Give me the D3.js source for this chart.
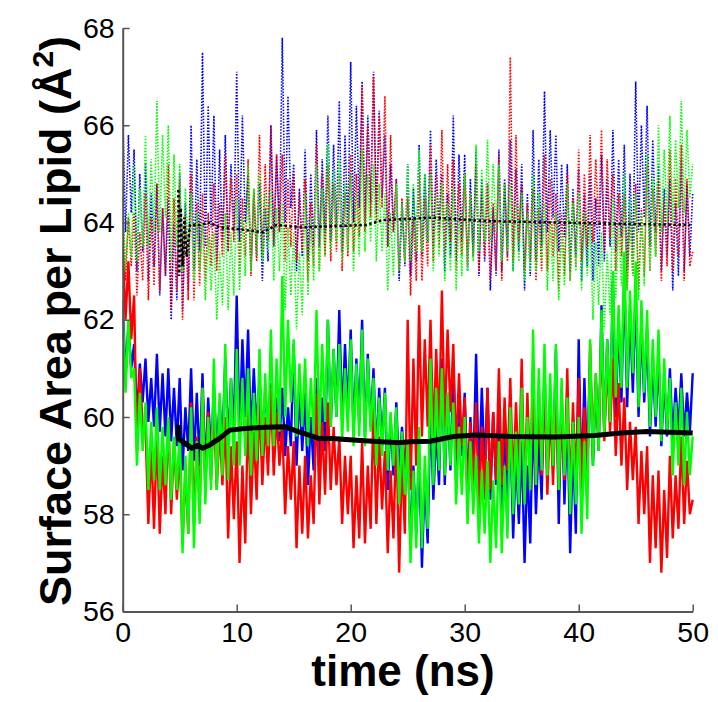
<!DOCTYPE html>
<html>
<head>
<meta charset="utf-8">
<script src="https://cdn.jsdelivr.net/npm/d3@7"></script>
<style>
  html, body { margin: 0; padding: 0; background: #fff; }
  svg { display: block; font-family: "Liberation Sans", Arial, sans-serif; }
</style>
</head>
<body>
<svg id="chart" width="718" height="702"></svg>
<script>
// sampling step of the series below (ns), first sample at t = 0
const dt = 0.25;

// lower (solid) surface-area traces, Å^2
const blueSolid = [
  62.4,60.8,61.9,61.0, 61.5,60.0,61.1,60.3, 61.2,59.9,60.8,59.8, 61.3,59.7,60.9,59.6, 61.0,59.5,60.6,59.4,
  60.8,58.9,60.2,59.3, 61.0,59.1,60.5,59.0, 60.9,58.8,60.4,59.2, 60.6,59.3,60.3,59.5, 61.2,59.4,60.8,59.7,
  62.5,59.6,61.6,60.0, 61.8,59.5,61.0,59.7, 60.8,59.6,60.5,59.7, 60.7,59.4,60.4,59.5, 60.6,59.2,60.2,59.4,
  61.5,59.0,60.6,59.3, 60.5,58.6,60.0,58.9, 60.8,59.0,60.4,59.3, 62.0,59.8,61.4,60.0, 62.2,59.9,61.5,60.1,
  61.8,59.7,61.2,59.9, 62.0,59.6,61.3,59.8, 61.0,59.2,60.6,59.4, 60.6,58.5,60.0,58.8, 60.3,58.8,59.8,58.9,
  59.5,57.3,59.0,57.6, 59.3,56.9,58.8,57.4, 60.3,58.3,59.8,58.6, 61.2,58.6,60.5,58.9, 61.0,59.0,60.4,59.2,
  60.5,58.5,60.0,58.8, 61.3,58.6,60.6,58.9, 60.6,58.3,60.1,58.6, 60.3,58.0,59.8,58.3, 59.8,57.5,59.3,57.8,
  59.5,57.0,59.0,57.4, 60.2,58.0,59.6,58.3, 61.0,58.8,60.4,59.0, 61.4,57.8,60.6,58.2, 60.2,57.2,59.5,57.6,
  61.6,58.5,60.8,58.8, 61.2,59.0,60.7,59.3, 62.3,59.6,61.6,59.9, 62.8,60.0,62.0,60.3, 63.0,60.2,62.2,60.5,
  62.6,60.0,61.9,60.3, 61.8,59.6,61.2,59.8, 61.3,59.4,60.8,59.6, 61.0,59.5,60.6,59.7, 60.9,59.6,60.5,59.7,
  60.9
];
const redSolid = [
  63.5,62.0,63.2,61.6, 62.5,59.3,61.0,59.8, 59.8,57.8,59.4,57.7, 59.7,57.6,59.2,58.0, 60.0,58.0,59.5,58.3,
  59.3,57.4,58.9,57.6, 60.3,57.8,59.6,58.1, 60.6,58.5,60.1,58.7, 60.2,58.5,59.8,58.6, 60.0,57.5,59.4,57.9,
  59.5,57.0,59.0,57.4, 60.2,58.0,59.7,58.3, 60.4,58.6,60.0,58.8, 60.6,58.8,60.1,59.0, 59.8,58.0,59.4,58.3,
  59.5,57.3,59.0,57.6, 59.2,57.5,58.8,57.8, 60.5,58.2,59.9,58.4, 60.3,58.5,59.8,58.6, 59.6,57.8,59.2,58.0,
  59.2,57.3,58.8,57.5, 59.5,57.4,59.0,57.7, 60.2,57.8,59.6,58.1, 59.3,57.2,58.9,57.5, 59.8,56.8,59.2,57.6,
  62.0,58.5,61.2,59.0, 62.3,59.6,61.6,59.8, 62.0,59.5,61.4,59.7, 62.6,59.8,61.8,60.1, 61.5,59.2,60.9,59.4,
  60.4,58.3,59.9,58.6, 60.3,58.0,59.8,58.3, 60.6,58.5,60.1,58.7, 61.0,58.6,60.4,58.9, 60.8,58.5,60.3,58.7,
  61.2,58.3,60.5,58.6, 61.0,58.6,60.4,58.8, 60.7,58.4,60.2,58.6, 60.6,58.5,60.1,58.7, 61.0,58.3,60.3,58.6,
  60.8,58.6,60.2,58.8, 61.5,59.2,60.9,59.4, 61.8,59.5,61.2,59.7, 61.2,59.2,60.7,59.0, 60.4,58.5,59.9,58.7,
  59.8,57.8,59.3,58.0, 59.4,57.0,58.8,57.3, 58.9,56.8,58.5,57.1, 59.2,57.5,58.8,57.7, 59.6,57.8,59.1,58.0,
  58.3
];
const greenSolid = [
  62.3,60.5,62.0,60.8, 61.0,59.0,60.5,59.3, 60.3,58.5,59.9,58.7, 60.2,58.5,59.8,58.6, 60.0,58.3,59.6,58.5,
  59.8,57.2,59.2,57.6, 60.2,57.3,59.5,57.8, 60.6,58.2,60.0,58.5, 61.2,58.5,60.5,58.8, 61.5,58.7,60.8,59.0,
  61.4,59.0,60.8,59.2, 61.0,58.8,60.5,59.1, 61.4,59.2,60.9,59.4, 61.8,59.4,61.2,59.7, 62.9,60.0,62.0,60.3,
  61.6,59.6,61.1,59.8, 61.2,59.4,60.8,59.6, 62.2,59.6,61.5,59.9, 62.0,59.8,61.4,60.0, 61.5,59.5,61.0,59.7,
  61.6,59.4,61.1,59.6, 61.8,59.4,61.2,59.7, 60.8,59.0,60.4,59.2, 60.5,58.9,60.1,59.0, 60.2,58.2,59.7,58.4,
  59.5,57.0,58.9,57.3, 59.8,57.3,59.2,57.7, 61.2,58.6,60.6,58.9, 61.0,58.8,60.5,59.0, 60.3,58.2,59.8,58.4,
  60.0,57.8,59.5,58.0, 59.2,57.4,58.9,57.6, 59.1,57.0,58.7,57.3, 59.5,57.2,59.0,57.5, 60.2,58.0,59.7,58.2,
  60.6,58.2,60.0,58.5, 61.8,58.6,61.0,58.9, 61.5,58.8,60.9,59.0, 61.5,58.5,60.8,58.8, 60.4,58.0,59.9,58.2,
  60.0,57.6,59.5,57.9, 61.6,59.0,60.9,59.3, 62.2,59.6,61.6,59.9, 63.0,60.4,62.3,60.6, 63.4,60.6,62.6,60.9,
  63.2,60.2,62.4,60.5, 62.2,59.8,61.6,60.0, 61.8,59.5,61.2,59.7, 60.8,58.8,60.3,59.0, 60.6,58.6,60.1,58.8,
  59.6
];

// upper (dotted) traces, Å^2
const blueDotted = [
  66.3,63.8,65.8,64.2, 65.5,63.0,65.0,63.4, 65.2,62.8,64.6,63.1, 64.8,62.5,64.3,62.9, 64.5,62.0,64.0,62.4,
  65.0,62.2,64.4,62.6, 66.0,63.0,65.3,63.4, 67.5,63.5,66.4,63.9, 66.2,63.2,65.5,63.6, 65.8,63.4,65.2,63.8,
  67.1,63.6,66.2,64.0, 65.0,63.0,64.6,63.3, 64.8,62.8,64.3,63.2, 66.0,63.5,65.4,63.8, 67.8,64.0,66.6,64.3,
  65.2,63.0,64.7,63.3, 65.5,63.2,65.0,63.5, 65.9,63.5,65.3,63.8, 66.2,63.6,65.6,63.9, 66.5,63.4,65.8,63.8,
  67.3,64.0,66.4,64.3, 66.9,64.0,66.2,64.4, 67.1,64.2,66.3,64.5, 65.8,63.5,65.2,63.8, 64.9,62.8,64.4,63.1,
  65.2,62.9,64.7,63.2, 65.6,63.3,65.0,63.6, 65.9,63.5,65.3,63.8, 65.0,63.0,64.6,63.3, 66.2,63.2,65.4,63.6,
  65.4,63.0,64.9,63.3, 65.5,62.9,64.9,63.2, 64.8,62.6,64.3,62.9, 65.5,63.0,64.9,63.3, 65.7,63.0,65.1,63.4,
  65.2,62.6,64.6,62.9, 65.9,63.2,65.3,63.5, 66.7,63.8,65.9,64.1, 65.8,63.4,65.2,63.7, 65.2,63.0,64.7,63.3,
  65.1,62.8,64.6,63.1, 65.0,62.8,64.5,63.1, 65.4,63.2,64.9,63.5, 65.9,63.4,65.3,63.7, 65.6,63.0,65.0,63.3,
  66.9,63.8,66.0,64.1, 66.4,63.5,65.7,63.8, 65.2,63.0,64.7,63.3, 64.9,62.6,64.4,62.9, 65.3,63.0,64.8,63.3,
  64.6
];
const redDotted = [
  64.5,62.8,64.1,63.1, 64.2,62.5,63.8,62.8, 64.6,62.4,64.1,62.7, 64.8,62.6,64.3,62.9, 65.2,62.2,64.5,62.6,
  64.9,62.0,64.2,62.4, 65.0,62.4,64.4,62.7, 64.6,62.8,64.2,63.1, 64.8,63.0,64.4,63.3, 65.4,63.4,64.9,63.6,
  65.0,63.0,64.5,63.3, 65.3,62.9,64.7,63.2, 65.8,63.3,65.2,63.6, 66.0,63.5,65.4,63.8, 65.4,63.2,64.9,63.5,
  65.0,63.2,64.6,63.4, 64.9,62.8,64.4,63.1, 65.6,63.0,65.0,63.3, 65.2,63.2,64.8,63.4, 65.0,63.0,64.6,63.3,
  65.4,63.4,65.0,63.7, 66.8,63.8,66.0,64.1, 67.0,64.0,66.2,64.3, 66.6,63.5,65.8,63.8, 64.9,63.0,64.5,63.2,
  64.5,62.5,64.1,62.8, 65.0,62.8,64.5,63.1, 65.6,63.2,65.0,63.5, 65.9,63.3,65.2,63.6, 65.3,63.0,64.8,63.3,
  65.0,63.1,64.6,63.3, 65.2,63.0,64.7,63.3, 64.8,62.8,64.4,63.0, 65.4,62.8,64.8,63.2, 67.4,63.2,65.8,63.6,
  64.8,63.0,64.4,63.2, 64.7,62.8,64.3,63.0, 65.4,63.0,64.9,63.3, 64.6,62.6,64.2,62.9, 65.0,62.8,64.5,63.1,
  65.5,63.2,65.0,63.5, 65.8,63.6,65.3,63.9, 65.9,63.4,65.3,63.7, 65.0,63.0,64.6,63.3, 64.6,62.6,64.2,62.9,
  64.8,62.6,64.3,62.9, 65.2,63.0,64.7,63.3, 64.9,62.8,64.5,63.1, 65.5,63.0,64.9,63.3, 65.6,62.8,64.9,63.1,
  63.4
];
const greenDotted = [
  64.5,63.0,64.2,63.3, 65.2,63.2,64.7,63.5, 65.8,63.5,65.3,63.8, 66.5,63.8,65.8,64.1, 66.0,63.2,65.4,63.5,
  65.2,63.0,64.7,63.3, 64.6,62.8,64.2,63.0, 64.0,62.4,63.7,62.6, 63.8,62.0,63.4,62.3, 64.2,62.2,63.8,62.5,
  64.5,62.6,64.1,62.9, 65.2,63.0,64.7,63.3, 65.0,63.2,64.6,63.4, 64.7,62.8,64.3,63.0, 64.4,62.2,63.9,62.5,
  63.8,61.8,63.4,62.1, 64.6,62.5,64.1,62.8, 65.2,63.0,64.7,63.3, 65.6,63.4,65.1,63.6, 65.3,63.2,64.8,63.4,
  65.0,63.0,64.6,63.3, 65.5,63.4,65.0,63.6, 65.2,63.2,64.8,63.4, 64.6,62.6,64.2,62.9, 64.8,63.0,64.4,63.2,
  65.2,63.2,64.8,63.4, 65.5,63.4,65.0,63.6, 65.0,63.0,64.6,63.3, 64.8,62.8,64.4,63.0, 64.7,62.6,64.2,62.9,
  65.0,63.0,64.6,63.2, 65.6,63.4,65.1,63.6, 65.7,63.6,65.2,63.8, 65.2,63.2,64.8,63.4, 64.8,63.0,64.4,63.2,
  64.6,62.8,64.2,63.0, 65.0,63.0,64.6,63.2, 64.4,62.6,64.0,62.8, 64.2,62.4,63.8,62.7, 64.8,62.8,64.4,63.0,
  64.6,62.6,64.2,62.9, 64.0,62.0,63.6,62.3, 63.8,61.8,63.4,62.1, 64.5,62.4,64.0,62.7, 65.0,62.6,64.5,62.9,
  64.6,62.4,64.2,62.7, 65.4,63.0,64.9,63.3, 66.0,63.8,65.5,64.0, 66.2,64.0,65.7,64.3, 66.5,64.2,65.9,64.5,
  65.2
];

// running averages (black), own time stamps
const avgLowT = [4.9, 4.92, 6.05, 6.6, 7.0, 7.6, 8.5, 9.4, 10.5, 12.5, 14.2, 15.4, 17.2, 18.3, 21.2, 24.2, 25.2, 27, 29, 31, 34, 37.9, 41.4, 43.7, 46, 50];
const avgLow  = [59.84, 59.55, 59.36, 59.42, 59.36, 59.42, 59.56, 59.73, 59.76, 59.79, 59.80, 59.70, 59.56, 59.56, 59.51, 59.47, 59.49, 59.50, 59.60, 59.63, 59.60, 59.59, 59.62, 59.67, 59.70, 59.67];
const avgHighT = [4.88, 4.95, 5.1, 5.25, 5.4, 5.6, 5.9, 6.8, 7.6, 8.5, 10.6, 12.3, 13.5, 15.6, 21.4, 22.8, 27.2, 31.9, 38, 43.9, 49.8];
const avgHigh  = [64.67, 62.9, 64.3, 63.1, 64.1, 63.3, 63.95, 63.95, 64.0, 63.9, 63.85, 63.8, 63.95, 63.9, 63.95, 64.05, 64.1, 64.03, 64.0, 63.97, 63.95];

const xTicks = [0, 10, 20, 30, 40, 50];
const yTicks = [56, 58, 60, 62, 64, 66, 68];

const W = 718, H = 702;
const margin = { top: 28, right: 25.3, bottom: 90.5, left: 122.7 };

const x = d3.scaleLinear().domain([0, 50]).range([margin.left, W - margin.right]);
const y = d3.scaleLinear().domain([56, 68]).range([H - margin.bottom, margin.top]);

const svg = d3.select('#chart');

svg.append('defs').append('clipPath').attr('id', 'plotClip')
  .append('rect')
  .attr('x', margin.left).attr('y', margin.top - 2)
  .attr('width', W - margin.left - margin.right + 2)
  .attr('height', H - margin.top - margin.bottom + 2);

const plot = svg.append('g').attr('clip-path', 'url(#plotClip)');

const sampled = d3.line().x((d, i) => x(i * dt)).y(d => y(d));

// dotted traces first, solid ones on top
const traces = [
  { data: blueDotted,  color: '#0000ff', width: 1.6, dash: '1.5,1.5' },
  { data: redDotted,   color: '#ff0000', width: 1.6, dash: '1.5,1.5' },
  { data: greenDotted, color: '#00ff00', width: 1.6, dash: '1.5,1.5' },
  { data: blueSolid,   color: '#0000ff', width: 2.4, dash: null },
  { data: redSolid,    color: '#ff0000', width: 2.4, dash: null },
  { data: greenSolid,  color: '#00ff00', width: 2.4, dash: null }
];

traces.forEach(s => {
  plot.append('path')
    .datum(s.data)
    .attr('d', sampled)
    .attr('fill', 'none')
    .attr('stroke', s.color)
    .attr('stroke-width', s.width)
    .attr('stroke-dasharray', s.dash);
});

// running averages
const avgLine = d3.line().x(d => x(d[0])).y(d => y(d[1]));

plot.append('path')
  .datum(d3.zip(avgHighT, avgHigh))
  .attr('d', avgLine)
  .attr('fill', 'none')
  .attr('stroke', '#000')
  .attr('stroke-width', 2.5)
  .attr('stroke-dasharray', '2.5,2.5');

plot.append('path')
  .datum(d3.zip(avgLowT, avgLow))
  .attr('d', avgLine)
  .attr('fill', 'none')
  .attr('stroke', '#000')
  .attr('stroke-width', 5)
  .attr('stroke-linejoin', 'round');

// axes (ticks point inward, no box)
const gx = svg.append('g')
  .attr('transform', `translate(0,${y(56)})`)
  .call(d3.axisBottom(x).tickValues(xTicks).tickSizeInner(-7).tickSizeOuter(0).tickPadding(10));

const gy = svg.append('g')
  .attr('transform', `translate(${x(0)},0)`)
  .call(d3.axisLeft(y).tickValues(yTicks).tickSizeInner(-7).tickSizeOuter(0).tickPadding(8));

[gx, gy].forEach(g => {
  g.select('.domain').attr('stroke', '#555').attr('stroke-width', 2);
  g.selectAll('.tick line').attr('stroke', '#555').attr('stroke-width', 1.5);
  g.selectAll('.tick text')
    .attr('fill', '#000')
    .style('font-family', '"Liberation Sans", Arial, sans-serif')
    .style('font-size', '28.5px');
});

// axis titles
svg.append('text')
  .attr('x', 403)
  .attr('y', 686)
  .attr('text-anchor', 'middle')
  .style('font-weight', 'bold')
  .style('font-size', '44px')
  .text('time (ns)');

const yTitle = svg.append('text')
  .attr('transform', 'translate(71,321) rotate(-90)')
  .attr('text-anchor', 'middle')
  .style('font-weight', 'bold')
  .style('font-size', '45px');
yTitle.append('tspan').text('Surface Area per Lipid (Å');
yTitle.append('tspan').attr('dy', -18).style('font-size', '30px').text('2');
yTitle.append('tspan').attr('dy', 18).text(')');
</script>
</body>
</html>
